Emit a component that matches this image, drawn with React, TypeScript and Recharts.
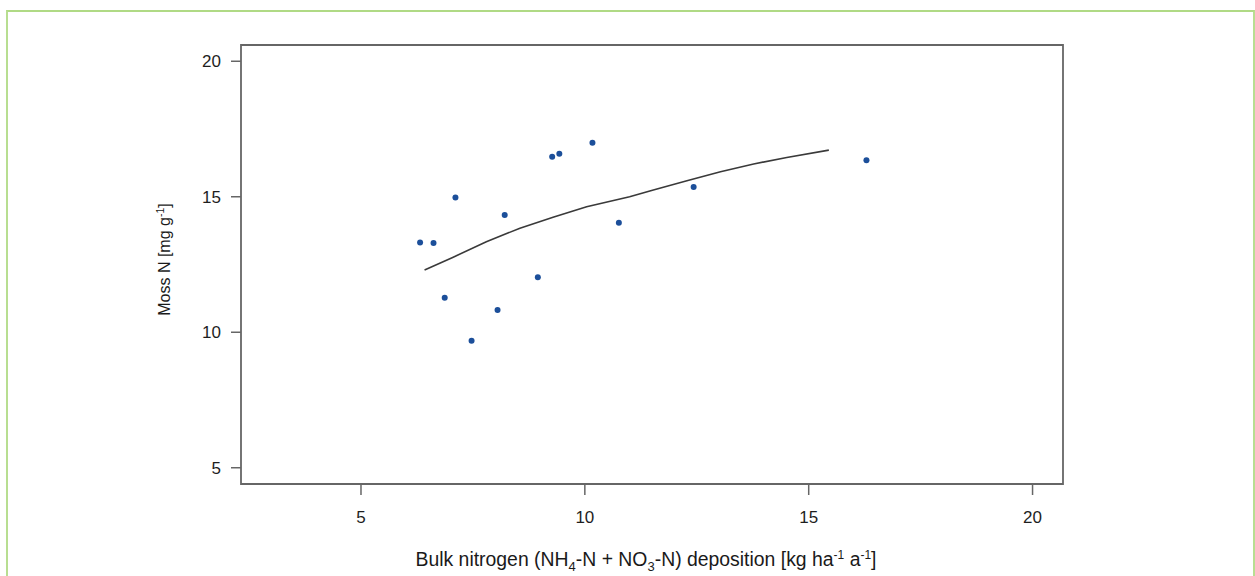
import React from "react";
import {
  ComposedChart,
  Scatter,
  Line,
  XAxis,
  YAxis,
  ReferenceArea,
  Label,
} from "recharts";

// observed sites: bulk N deposition vs moss N content
const depositionX = [6.32, 6.62, 7.11, 6.87, 8.21, 7.47, 8.05, 8.95, 9.27, 9.43, 10.17, 10.76, 12.43, 16.29];
const mossN = [13.31, 13.29, 14.97, 11.27, 14.33, 9.69, 10.82, 12.03, 16.48, 16.59, 16.99, 14.04, 15.36, 16.35];

// fitted curve
const fitX = [6.42, 7.06, 7.8, 8.55, 9.29, 10.04, 11.0, 11.53, 12.28, 13.03, 13.77, 14.51, 15.45];
const fitY = [12.3, 12.77, 13.34, 13.84, 14.24, 14.63, 15.0, 15.25, 15.59, 15.92, 16.21, 16.45, 16.72];

const xTicks = [5, 10, 15, 20];
const yTicks = [5, 10, 15, 20];
const xDomain: [number, number] = [2.32, 20.68];
const yDomain: [number, number] = [4.4, 20.6];

const points = depositionX.map((x, i) => ({ x, y: mossN[i] }));
const fit = fitX.map((x, i) => ({ x, y: fitY[i] }));

const FONT = '"Liberation Sans", Arial, sans-serif';

const XTitle = (props: any) => {
  const { x, y, width } = props.viewBox;
  return (
    <text x={x + width / 2 - 6} y={y + 82} textAnchor="middle" fontSize={19.4} fill="#1a1a1a" fontFamily={FONT}>
      Bulk nitrogen (NH
      <tspan dy={5} fontSize={13}>4</tspan>
      <tspan dy={-5}>-N + NO</tspan>
      <tspan dy={5} fontSize={13}>3</tspan>
      <tspan dy={-5}>-N) deposition [kg ha</tspan>
      <tspan dy={-7} fontSize={12}>-1</tspan>
      <tspan dy={7}> a</tspan>
      <tspan dy={-7} fontSize={12}>-1</tspan>
      <tspan dy={7}>]</tspan>
    </text>
  );
};

const YTitle = (props: any) => {
  const { y, height } = props.viewBox;
  const cx = 170;
  const cy = y + height / 2 - 5;
  return (
    <text
      x={cx}
      y={cy}
      transform={`rotate(-90 ${cx} ${cy})`}
      textAnchor="middle"
      fontSize={16}
      fill="#1a1a1a"
      fontFamily={FONT}
    >
      Moss N [mg g
      <tspan dy={-6} fontSize={10.5}>-1</tspan>
      <tspan dy={6}>]</tspan>
    </text>
  );
};

const Dot = (props: any) => <circle cx={props.cx} cy={props.cy} r={3} fill="#1c4f9a" />;

export default function App() {
  return (
    <div style={{ position: "absolute", left: 0, top: 0, width: 1255, height: 576, background: "#fff" }}>
      <div
        style={{
          position: "absolute",
          left: 6,
          top: 10,
          width: 1249,
          height: 580,
          boxSizing: "border-box",
          borderTop: "2px solid #b0da85",
          borderLeft: "2px solid #b8de91",
          borderRight: "2px solid #b8de91",
        }}
      />
      <ComposedChart
        width={1255}
        height={576}
        margin={{ top: 45, right: 192, bottom: 0, left: 0 }}
        style={{ position: "absolute", left: 0, top: 0, fontFamily: FONT }}
      >
        <XAxis
          type="number"
          dataKey="x"
          domain={xDomain}
          ticks={xTicks}
          allowDataOverflow
          height={92}
          axisLine={false}
          tickSize={11}
          tickMargin={16}
          tickLine={{ stroke: "#666", strokeWidth: 1.5 }}
          tick={{ fontSize: 17, fill: "#1e1e1e", fontFamily: FONT }}
        >
          <Label content={XTitle} />
        </XAxis>
        <YAxis
          type="number"
          dataKey="y"
          domain={yDomain}
          ticks={yTicks}
          allowDataOverflow
          width={241}
          axisLine={false}
          tickSize={10}
          tickMargin={10}
          tickLine={{ stroke: "#666", strokeWidth: 1.5 }}
          tick={{ fontSize: 17, fill: "#1e1e1e", fontFamily: FONT }}
        >
          <Label content={YTitle} />
        </YAxis>
        <ReferenceArea
          x1={xDomain[0]}
          x2={xDomain[1]}
          y1={yDomain[0]}
          y2={yDomain[1]}
          fill="none"
          fillOpacity={0}
          stroke="#666"
          strokeWidth={1.8}
          ifOverflow="visible"
        />
        <Line
          data={fit}
          dataKey="y"
          type="linear"
          stroke="#3a3a3a"
          strokeWidth={1.6}
          dot={false}
          activeDot={false}
          isAnimationActive={false}
        />
        <Scatter data={points} dataKey="y" shape={Dot} isAnimationActive={false} />
      </ComposedChart>
    </div>
  );
}
